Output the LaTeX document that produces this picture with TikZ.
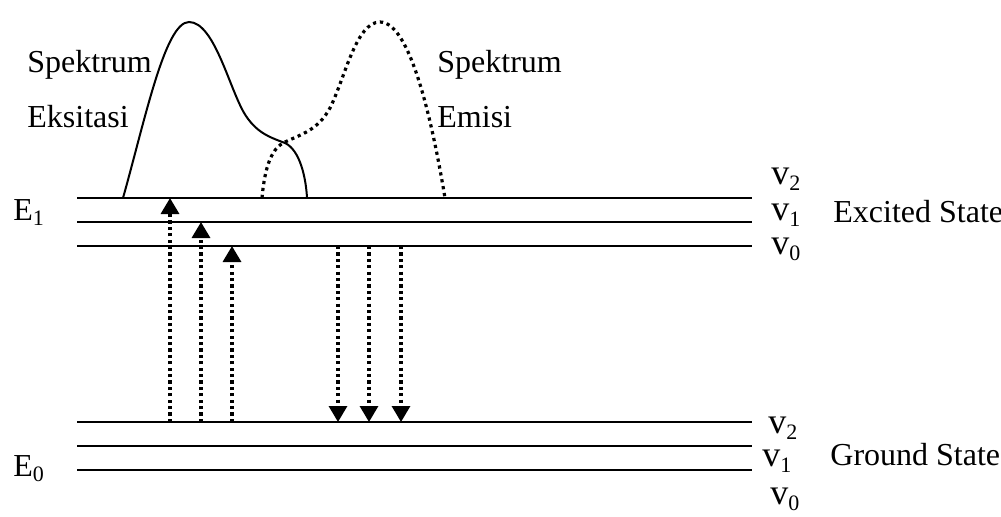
\documentclass[tikz,border=0pt]{standalone}
\usepackage{fontspec}
\setmainfont{Liberation Serif}
\usetikzlibrary{arrows.meta}
\newcommand\vlev[1]{{\fontsize{18}{20}\selectfont v}\raisebox{-0.45ex}{\fontsize{11}{12}\selectfont #1}}
\newcommand\elev[1]{E\raisebox{-0.35ex}{\fontsize{11}{12}\selectfont #1}}
\begin{document}
\begin{tikzpicture}[x=0.5pt,y=-0.5pt,
  level/.style={line width=1pt},
  lbl/.style={anchor=base west,inner sep=0pt,font=\fontsize{16}{18}\selectfont},
  trans/.style={line width=1.6pt,dash pattern=on 1.6pt off 1.6pt,
     -{Triangle[width=9pt,length=8pt]}},
  spec/.style={line width=1pt}]
\useasboundingbox (0,0) rectangle (1001,516);

% vibrational levels of the excited and ground states
\foreach \n/\y in {e2/198,e1/222,e0/246,g2/422,g1/446,g0/470}{
  \coordinate (\n L) at (77,\y);
  \coordinate (\n R) at (752,\y);
  \draw[level] (\n L) -- (\n R);
}

% absorption (upward) transitions
\coordinate (a1b) at (170,422); \coordinate (a1t) at (170,198);
\coordinate (a2b) at (201,422); \coordinate (a2t) at (201,222);
\coordinate (a3b) at (232,422); \coordinate (a3t) at (232,246);
\draw[trans] (a1b) -- (a1t);
\draw[trans] (a2b) -- (a2t);
\draw[trans] (a3b) -- (a3t);

% emission (downward) transitions
\coordinate (m1t) at (338,246); \coordinate (m1b) at (338,422);
\coordinate (m2t) at (369,246); \coordinate (m2b) at (369,422);
\coordinate (m3t) at (401,246); \coordinate (m3b) at (401,422);
\draw[trans] (m1t) -- (m1b);
\draw[trans] (m2t) -- (m2b);
\draw[trans] (m3t) -- (m3b);

% excitation spectrum
\draw[spec] (123,198) .. controls (145,120) and (165,22) .. (189,22)
  .. controls (215,22) and (230,92) .. (246,116)
  .. controls (258,134) and (272,138) .. (285,143)
  .. controls (300,150) and (306,178) .. (307,198);

% emission spectrum
\draw[line width=1.6pt,dash pattern=on 1.6pt off 1.9pt]
  (262,198) .. controls (265,165) and (272,148) .. (285,142)
  .. controls (302,134) and (318,130) .. (330,108)
  .. controls (345,78) and (356,22) .. (380,22)
  .. controls (410,22) and (432,120) .. (445,198);

% text labels
\node[lbl] (spA) at (27,72) {Spektrum};
\node[lbl] (spB) at (27,127) {Eksitasi};
\node[lbl] (emA) at (437,72) {Spektrum};
\node[lbl] (emB) at (437,127) {Emisi};
\node[lbl] (E1) at (13,220) {\elev{1}};
\node[lbl] (E0) at (13,476) {\elev{0}};
\node[lbl] (ev2) at (771,184) {\vlev{2}};
\node[lbl] (ev1) at (771,220) {\vlev{1}};
\node[lbl] (ev0) at (771,254) {\vlev{0}};
\node[lbl] (exc) at (833,222) {Excited State};
\node[lbl] (gv2) at (768,433) {\vlev{2}};
\node[lbl] (gv1) at (762,466) {\vlev{1}};
\node[lbl] (gv0) at (770,504) {\vlev{0}};
\node[lbl] (gnd) at (830,465) {Ground State};
\end{tikzpicture}
\end{document}
